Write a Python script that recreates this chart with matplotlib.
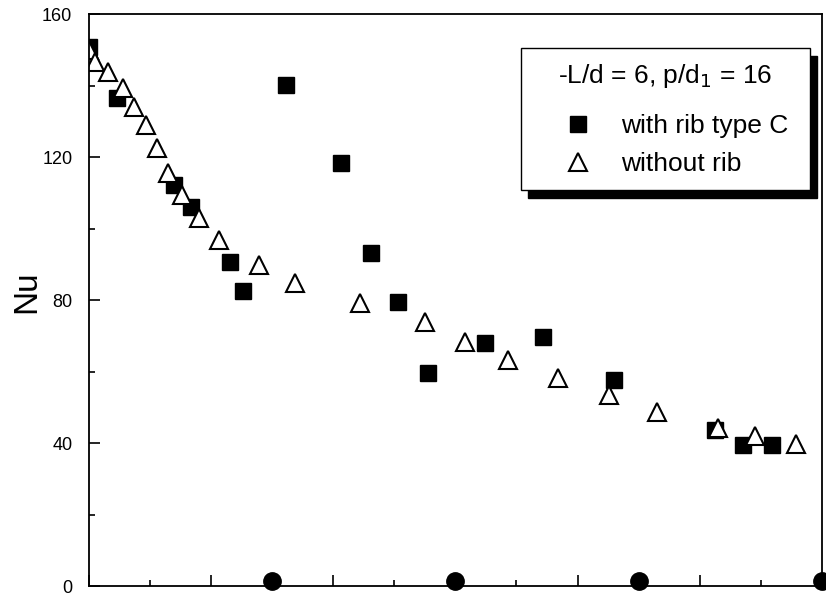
import matplotlib
matplotlib.use("Agg")
import matplotlib.pyplot as plt
from matplotlib.lines import Line2D
from matplotlib.ticker import MultipleLocator, NullFormatter

plt.rcParams['font.family'] = ['Liberation Sans', 'DejaVu Sans']

# data
rib_x = [0.0, 0.46, 1.39, 1.67, 2.31, 2.52, 3.23, 4.13, 4.62, 5.06, 5.55, 6.48, 7.43, 8.60, 10.25, 10.71, 11.18]
rib_y = [150.8, 136.5, 112.2, 106.0, 90.6, 82.5, 140.1, 118.3, 93.1, 79.4, 59.6, 68.0, 69.6, 57.6, 43.6, 39.4, 39.4]
norib_x = [0.0, 0.10, 0.31, 0.56, 0.74, 0.93, 1.11, 1.30, 1.52, 1.80, 2.13, 2.79, 3.37, 4.44, 5.50, 6.16, 6.86, 7.68, 8.51, 9.30, 10.30, 10.90, 11.58]
norib_y = [149.9, 146.6, 143.8, 139.3, 134.0, 128.9, 122.5, 115.5, 109.4, 102.9, 96.8, 89.8, 84.7, 79.2, 73.8, 68.2, 63.2, 58.2, 53.4, 48.7, 44.2, 42.0, 39.7]
rib_pos = [3, 6, 9, 12]
yticks = [0, 40, 80, 120, 160]

fig = plt.figure(figsize=(8.26, 5.97), dpi=100)
ax = fig.add_axes([0.1077, 0.0184, 0.8873, 0.9581])

ax.plot(rib_x, rib_y, linestyle='none', marker='s', markersize=11.5,
        markerfacecolor='black', markeredgecolor='black', label='with rib type C')
ax.plot(norib_x, norib_y, linestyle='none', marker='^', markersize=13,
        markerfacecolor='white', markeredgecolor='black', markeredgewidth=1.5,
        label='without rib')
ax.plot(rib_pos, [1.5] * len(rib_pos), linestyle='none', marker='o', markersize=12.5,
        color='black', clip_on=False, zorder=5)

ax.set_xlim(0, 12)
ax.set_ylim(0, 160)
ax.set_yticks(yticks)
ax.yaxis.set_minor_locator(MultipleLocator(20))
ax.xaxis.set_major_locator(MultipleLocator(2))
ax.xaxis.set_minor_locator(MultipleLocator(1))
ax.xaxis.set_major_formatter(NullFormatter())
ax.tick_params(which='major', direction='in', length=8, width=1.2, labelsize=13, pad=12)
ax.tick_params(which='minor', direction='in', length=4, width=1.2)
for s in ax.spines.values():
    s.set_linewidth(1.3)
ax.set_ylabel('Nu', fontsize=24)
ax.yaxis.set_label_coords(-0.064, 0.515)

handles = [Line2D([], [], linestyle='none', marker='s', markersize=11,
                  markerfacecolor='black', markeredgecolor='black'),
           Line2D([], [], linestyle='none', marker='^', markersize=12.5,
                  markerfacecolor='white', markeredgecolor='black', markeredgewidth=1.5)]
leg = ax.legend(handles, ['with rib type C ', 'without rib '],
                title='-L/d = 6, p/d$_1$ = 16', title_fontsize=19, fontsize=19,
                loc='upper right', bbox_to_anchor=(0.9836, 0.9406),
                frameon=True, fancybox=False, edgecolor='black',
                shadow={'color': 'black', 'alpha': 1, 'ox': 5, 'oy': -6},
                borderpad=0.53, handlelength=3.26, handletextpad=0.0,
                labelspacing=0.53, borderaxespad=0, alignment='center')
leg.get_frame().set_linewidth(1.0)
leg._legend_box.sep = 17.3

fig.savefig('out.png', dpi=100)
